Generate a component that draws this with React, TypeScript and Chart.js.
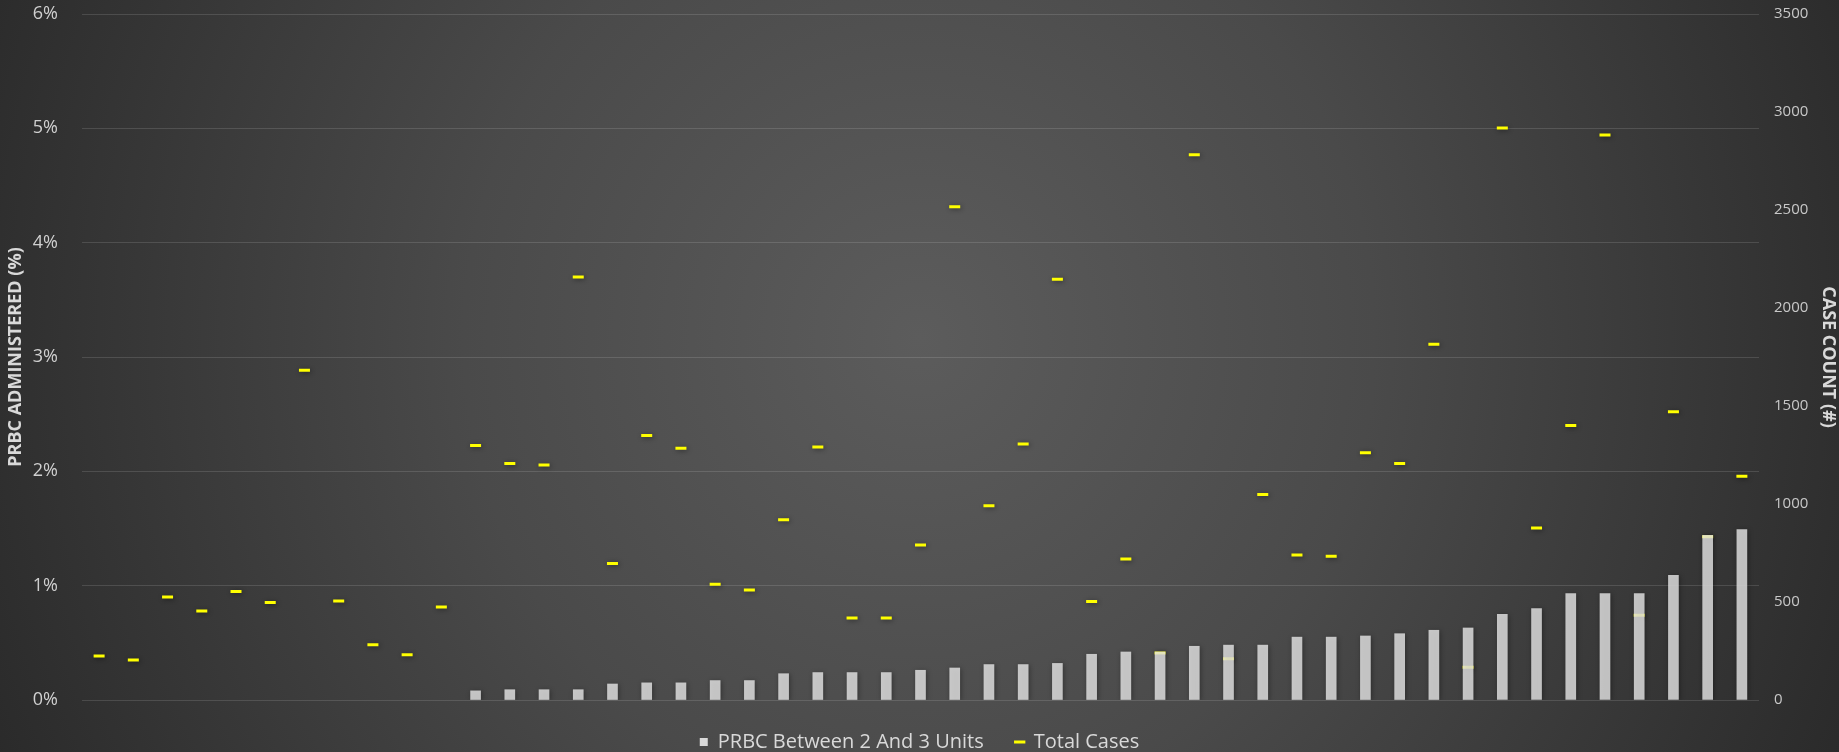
import React, { useEffect, useRef } from 'react';
import { Chart, registerables } from 'chart.js';

Chart.register(...registerables);

const FONT = "'Open Sans', 'Noto Sans', sans-serif";

const categories = [
  '1', '2', '3', '4', '5', '6', '7', '8', '9', '10',
  '11', '12', '13', '14', '15', '16', '17', '18', '19', '20',
  '21', '22', '23', '24', '25', '26', '27', '28', '29', '30',
  '31', '32', '33', '34', '35', '36', '37', '38', '39', '40',
  '41', '42', '43', '44', '45', '46', '47', '48', '49',
];

// PRBC Between 2 And 3 Units (% administered); null = no bar
const prbcPct = [
  null, null, null, null, null, null, null, null, null, null,
  null, 0.08, 0.09, 0.09, 0.09, 0.14, 0.15, 0.15, 0.17, 0.17,
  0.23, 0.24, 0.24, 0.24, 0.26, 0.28, 0.31, 0.31, 0.32, 0.40,
  0.42, 0.42, 0.47, 0.48, 0.48, 0.55, 0.55, 0.56, 0.58, 0.61,
  0.63, 0.75, 0.80, 0.93, 0.93, 0.93, 1.09, 1.44, 1.49,
];

// Total Cases (case count)
const totalCases = [
  224, 204, 525, 454, 554, 497, 1682, 505, 282, 231,
  475, 1299, 1206, 1199, 2158, 697, 1349, 1284, 590, 561,
  920, 1291, 418, 418, 791, 2517, 991, 1306, 2147, 503,
  719, 240, 2782, 211, 1048, 740, 733, 1262, 1206, 1815,
  167, 2918, 877, 1400, 2883, 432, 1471, 833, 1141,
];

const leftAxis = { min: 0, max: 6, step: 1, title: 'PRBC ADMINISTERED (%)' };
const rightAxis = { min: 0, max: 3500, step: 500, title: 'CASE COUNT (#)' };
const seriesNames = ['PRBC Between 2 And 3 Units', 'Total Cases'];

export default function App() {
  const ref = useRef<HTMLCanvasElement>(null);

  useEffect(() => {
    document.body.style.margin = '0';
    document.body.style.overflow = 'hidden';

    const shadowPlugin = {
      id: 'markShadow',
      beforeDatasetDraw(chart: any) {
        const ctx = chart.ctx;
        ctx.save();
        ctx.shadowColor = 'rgba(0,0,0,0.45)';
        ctx.shadowBlur = 5;
        ctx.shadowOffsetX = 1;
        ctx.shadowOffsetY = 1;
      },
      afterDatasetDraw(chart: any) {
        chart.ctx.restore();
      },
    };

    const chart = new Chart(ref.current as HTMLCanvasElement, {
      type: 'bar',
      data: {
        labels: categories,
        datasets: [
          {
            type: 'bar',
            label: seriesNames[0],
            data: prbcPct,
            backgroundColor: 'rgba(232,232,232,0.8)',
            borderWidth: 0,
            barThickness: 10,
            yAxisID: 'y',
            order: 1,
          } as any,
          {
            type: 'line',
            label: seriesNames[1],
            data: totalCases,
            yAxisID: 'y1',
            showLine: false,
            pointStyle: 'line',
            pointRadius: 5.5,
            pointHoverRadius: 5.5,
            pointBorderWidth: 3,
            pointBorderColor: '#ffff00',
            pointBackgroundColor: '#ffff00',
            borderColor: '#ffff00',
            order: 2,
          } as any,
        ],
      },
      options: {
        responsive: false,
        animation: false,
        devicePixelRatio: 1,
        layout: { padding: { top: 14, left: 0, right: 0, bottom: 0 } },
        plugins: {
          tooltip: { enabled: false },
          legend: {
            position: 'bottom',
            labels: {
              usePointStyle: true,
              boxWidth: 8,
              boxHeight: 8,
              padding: 32,
              color: '#d9d9d9',
              font: { family: FONT, size: 20 },
              generateLabels: () => [
                {
                  text: seriesNames[0],
                  fillStyle: '#d9d9d9',
                  strokeStyle: '#d9d9d9',
                  lineWidth: 0,
                  pointStyle: 'rect',
                  hidden: false,
                  datasetIndex: 0,
                  fontColor: '#d9d9d9',
                } as any,
                {
                  text: seriesNames[1],
                  fillStyle: '#ffff00',
                  strokeStyle: '#ffff00',
                  lineWidth: 3,
                  pointStyle: 'line',
                  hidden: false,
                  datasetIndex: 1,
                  fontColor: '#d9d9d9',
                } as any,
              ],
            },
          },
        },
        scales: {
          x: { display: false, offset: true },
          y: {
            position: 'left',
            min: leftAxis.min,
            max: leftAxis.max,
            ticks: {
              stepSize: leftAxis.step,
              callback: (v: any) => v + '%',
              color: '#d0d0d0',
              font: { family: FONT, size: 18 },
              padding: 24,
            },
            grid: { color: 'rgba(255,255,255,0.13)', lineWidth: 1, drawTicks: false },
            border: { display: false },
            title: {
              display: true,
              text: leftAxis.title,
              color: '#d9d9d9',
              font: { family: FONT, size: 18, weight: 'bold' },
              padding: { top: 5, bottom: 0 },
            },
            afterFit: (s: any) => {
              s.width = 82;
              s.paddingTop = 0;
              s.paddingBottom = 0;
            },
          },
          y1: {
            position: 'right',
            min: rightAxis.min,
            max: rightAxis.max,
            ticks: {
              stepSize: rightAxis.step,
              callback: (v: any) => String(v),
              color: '#c8c8c8',
              font: { family: FONT, size: 15 },
              padding: 15,
            },
            grid: { display: false, drawTicks: false },
            border: { display: false },
            title: {
              display: true,
              text: rightAxis.title,
              color: '#d9d9d9',
              font: { family: FONT, size: 18, weight: 'bold' },
              padding: { top: 0, bottom: 0 },
            },
            afterFit: (s: any) => {
              s.width = 80;
              s.paddingTop = 0;
              s.paddingBottom = 0;
            },
          },
        },
      } as any,
      plugins: [shadowPlugin],
    });

    return () => chart.destroy();
  }, []);

  return (
    <div
      style={{
        position: 'fixed',
        left: 0,
        top: 0,
        width: 1839,
        height: 752,
        overflow: 'hidden',
        background:
          'radial-gradient(ellipse 55% 140% at 50% 45%, #5c5c5c 0%, #4a4a4a 45%, #2a2a2a 100%)',
      }}
    >
      <canvas ref={ref} width={1839} height={762} style={{ display: 'block' }} />
    </div>
  );
}
